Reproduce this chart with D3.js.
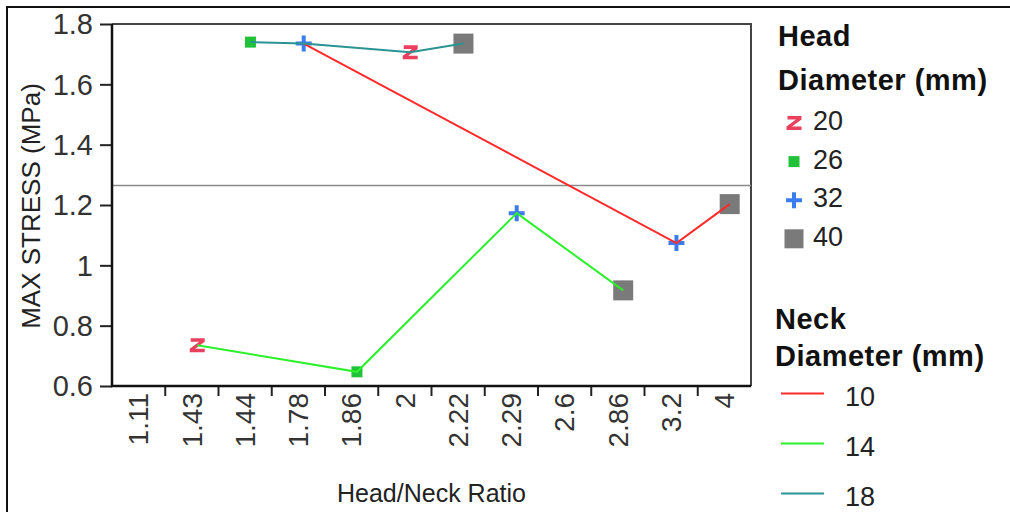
<!DOCTYPE html>
<html>
<head>
<meta charset="utf-8">
<script src="https://cdn.jsdelivr.net/npm/d3@7"></script>
<style>
  body { margin: 0; background: #fff; }
  text { font-family: "Liberation Sans", Arial, sans-serif; }
</style>
</head>
<body>
<div id="chart"></div>
<script>
// categories on the x axis (head/neck ratio)
const ratios = ["1.11", "1.43", "1.44", "1.78", "1.86", "2", "2.22", "2.29", "2.6", "2.86", "3.2", "4"];
const yTicks = [0.6, 0.8, 1.0, 1.2, 1.4, 1.6, 1.8];

// points: ratio, head diameter, max stress
const pointRatio = ["1.43", "1.44", "1.78", "1.86", "2", "2.22", "2.29", "2.86", "3.2", "4"];
const pointHead = [20, 26, 32, 26, 20, 40, 32, 40, 32, 40];
const pointStress = [0.735, 1.74, 1.735, 0.647, 1.706, 1.735, 1.173, 0.917, 1.074, 1.203];

// lines by neck diameter
const neckKeys = [10, 14, 18];
const neck10Ratio = ["1.78", "3.2", "4"];
const neck10Stress = [1.735, 1.074, 1.203];
const neck14Ratio = ["1.43", "1.86", "2.29", "2.86"];
const neck14Stress = [0.735, 0.647, 1.173, 0.917];
const neck18Ratio = ["1.44", "1.78", "2", "2.22"];
const neck18Stress = [1.74, 1.735, 1.706, 1.735];

const headKeys = [20, 26, 32, 40];
const meanStress = 1.265;

const width = 1010, height = 512;
const margin = { top: 24, right: 259, bottom: 126, left: 112 };

const svg = d3.select("#chart").append("svg")
    .attr("width", width)
    .attr("height", height)
    .style("display", "block");

svg.append("rect").attr("width", width).attr("height", height).attr("fill", "#fff");

// outer frame (top + left only)
svg.append("path")
    .attr("d", `M7,${height} V7 H${width}`)
    .attr("fill", "none").attr("stroke", "#111").attr("stroke-width", 2);

const xScale = d3.scaleBand()
    .domain(ratios)
    .range([margin.left, width - margin.right])
    .padding(0);

const yScale = d3.scaleLinear()
    .domain([0.6, 1.8])
    .range([height - margin.bottom, margin.top]);

const cx = r => xScale(r) + xScale.bandwidth() * 0.6;

const headColor = d3.scaleOrdinal().domain(headKeys).range(["#ea3f5d", "#22c13a", "#3b7cf0", "#7a7a7a"]);
const neckColor = d3.scaleOrdinal().domain(neckKeys).range(["#ff2a2a", "#2cf02c", "#2a9494"]);

const x0 = margin.left, x1 = width - margin.right;
const y0 = height - margin.bottom, y1 = margin.top;

// top/right frame
svg.append("path")
    .attr("d", `M${x0},${y1} H${x1} V${y0}`)
    .attr("fill", "none").attr("stroke", "#444").attr("stroke-width", 2);

// reference line
svg.append("line")
    .attr("x1", x0).attr("x2", x1)
    .attr("y1", yScale(meanStress)).attr("y2", yScale(meanStress))
    .attr("stroke", "#8a8a8a").attr("stroke-width", 1.5);

// y axis
const yAxis = d3.axisLeft(yScale)
    .tickValues(yTicks)
    .tickFormat(d => String(+d.toFixed(1)))
    .tickSize(12)
    .tickPadding(7);

const gy = svg.append("g")
    .attr("class", "axis y-axis")
    .attr("transform", `translate(${x0},0)`)
    .call(yAxis);
gy.select(".domain").remove();
gy.selectAll(".tick line").attr("stroke", "#222").attr("stroke-width", 2);
gy.selectAll(".tick text")
    .attr("font-size", 29).attr("fill", "#333")
    .attr("font-family", "Liberation Sans, Arial, sans-serif")
    .attr("dy", "0.34em");

// x axis: ticks between categories, rotated labels
const gx = svg.append("g").attr("class", "axis x-axis");
gx.selectAll("line.sep")
    .data(ratios.slice(1))
    .join("line")
    .attr("class", "sep")
    .attr("x1", d => xScale(d)).attr("x2", d => xScale(d))
    .attr("y1", y0).attr("y2", y0 + 10)
    .attr("stroke", "#222").attr("stroke-width", 2);
gx.selectAll("text")
    .data(ratios)
    .join("text")
    .attr("transform", d => `translate(${xScale(d) + xScale.bandwidth() / 2},${y0 + 7}) rotate(-90)`)
    .attr("text-anchor", "end")
    .attr("dy", "0.35em")
    .attr("font-size", 28)
    .attr("fill", "#333")
    .text(d => d);

// axis lines
svg.append("path")
    .attr("d", `M${x0},${y1} V${y0} H${x1}`)
    .attr("fill", "none").attr("stroke", "#111").attr("stroke-width", 2.5);

// axis titles
svg.append("text")
    .attr("transform", `translate(40,${(y0 + y1) / 2 + 1}) rotate(-90)`)
    .attr("text-anchor", "middle")
    .attr("font-size", 26).attr("fill", "#222")
    .text("MAX STRESS (MPa)");

svg.append("text")
    .attr("x", (x0 + x1) / 2).attr("y", 502)
    .attr("text-anchor", "middle")
    .attr("font-size", 25).attr("fill", "#222")
    .text("Head/Neck Ratio");

// marker shapes by head diameter
function markerPath(head) {
    if (head === 20) {
        const w = 7.5, h = 7, t = 3.6;
        return `M${-w + 1},${-h} H${w} V${-h + t} L${-2},${h - t} H${w} V${h} H${-w} V${h - t} L${2},${-h + t} H${-w + 1} Z`;
    }
    if (head === 26) return "M-5.5,-5.5 H5.5 V5.5 H-5.5 Z";
    if (head === 32) return "M-2,-8 H2 V-2 H8 V2 H2 V8 H-2 V2 H-8 V-2 H-2 Z";
    return "M-10,-10 H10 V10 H-10 Z";
}

const points = pointRatio.map((r, i) => ({ r, head: pointHead[i], v: pointStress[i] }));
svg.append("g").selectAll("path")
    .data(points)
    .join("path")
    .attr("transform", d => `translate(${cx(d.r)},${yScale(d.v)})`)
    .attr("d", d => markerPath(d.head))
    .attr("fill", d => headColor(d.head));

// lines drawn over the markers, as in the reference
const line = d3.line().x(d => cx(d.r)).y(d => yScale(d.v));
const neckSeries = [
    { key: 10, r: neck10Ratio, v: neck10Stress },
    { key: 14, r: neck14Ratio, v: neck14Stress },
    { key: 18, r: neck18Ratio, v: neck18Stress }
];
svg.append("g").selectAll("path")
    .data(neckSeries)
    .join("path")
    .attr("fill", "none")
    .attr("stroke", d => neckColor(d.key))
    .attr("stroke-width", 2)
    .attr("d", d => line(d.r.map((r, i) => ({ r, v: d.v[i] }))));

// legend: head diameter
const lg = svg.append("g");
const boldTitle = (x, y, t) => lg.append("text").attr("x", x).attr("y", y)
    .attr("font-size", 29).attr("font-weight", "bold").attr("letter-spacing", 0.5)
    .attr("fill", "#111").text(t);
boldTitle(778, 46, "Head");
boldTitle(778, 90, "Diameter (mm)");
const headItems = lg.selectAll("g.head")
    .data(headKeys)
    .join("g")
    .attr("class", "head")
    .attr("transform", (d, i) => `translate(0,${130 + i * 38.6})`);
headItems.append("path")
    .attr("transform", "translate(794,-7)")
    .attr("d", d => d === 40 ? "M-9.5,-9.5 H9.5 V9.5 H-9.5 Z" : markerPath(d))
    .attr("fill", d => headColor(d));
headItems.append("text")
    .attr("x", 813).attr("y", 0)
    .attr("font-size", 27).attr("fill", "#222")
    .text(d => d);

// legend: neck diameter
boldTitle(775, 329, "Neck");
boldTitle(775, 366, "Diameter (mm)");
const neckItems = lg.selectAll("g.neck")
    .data(neckKeys)
    .join("g")
    .attr("class", "neck")
    .attr("transform", (d, i) => `translate(0,${406 + i * 50})`);
neckItems.append("line")
    .attr("x1", 781).attr("x2", 824)
    .attr("y1", -12.5).attr("y2", -12.5)
    .attr("stroke", d => neckColor(d)).attr("stroke-width", 2);
neckItems.append("text")
    .attr("x", 845).attr("y", 0)
    .attr("font-size", 27).attr("fill", "#222")
    .text(d => d);
</script>
</body>
</html>
